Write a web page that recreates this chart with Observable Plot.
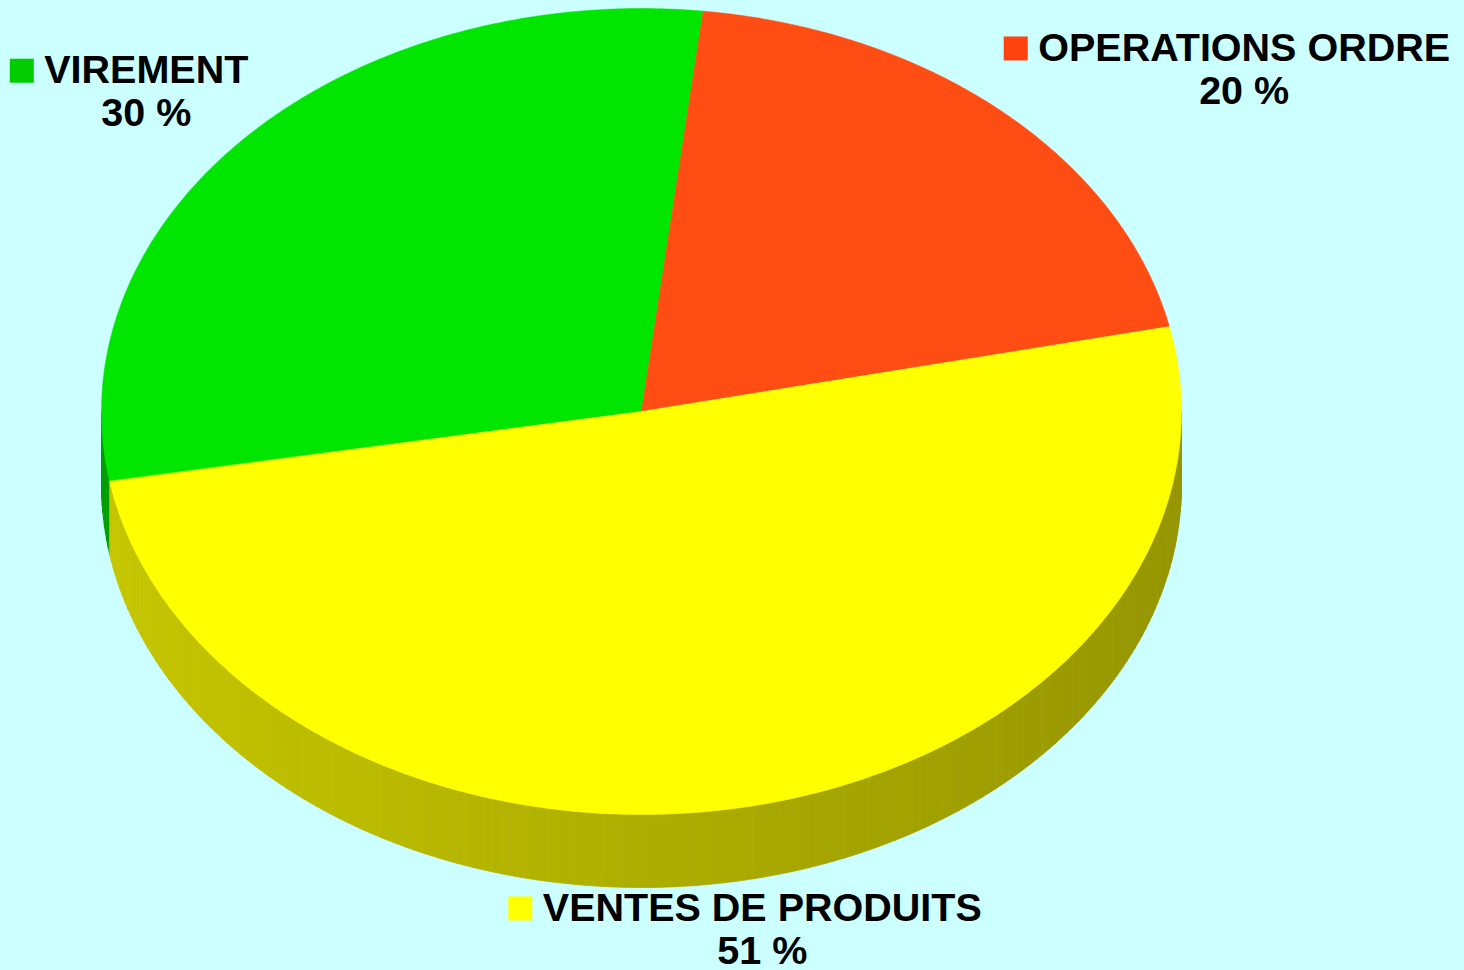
<!DOCTYPE html>
<html><head><meta charset="utf-8">
<script src="https://cdn.jsdelivr.net/npm/d3@7"></script>
<script src="https://cdn.jsdelivr.net/npm/@observablehq/plot@0.6"></script>
<style>html,body{margin:0;padding:0;background:#ccffff;overflow:hidden;}</style>
</head><body><div id="chart"></div>
<script>
// ---- data ----
const categories = ["VIREMENT", "OPERATIONS ORDRE", "VENTES DE PRODUITS"];
const values = [29.6, 19.8, 50.6];
const percentLabels = values.map(v => Math.round(v) + " %");
// ---- styles ----
const legendColors = ["#00cc00", "#ff420e", "#ffff00"];
const topColors = ["#00e600", "#ff4d14", "#ffff00"];

// ---- layout ----
const W = 1464, H = 970;
const CX = 641, CY = 411, RX = 540, RY = 403, DEPTH = 73, START = -100;
const FONT = 39.5, LINE_H = 43, SQ = 24, GAP = 10;
const rad = d => d * Math.PI / 180;
const pt = t => [CX + RX * Math.sin(rad(t)), CY - RY * Math.cos(rad(t))];

const total = d3.sum(values);
let acc = START;
const slices = values.map((v, i) => {
  const a0 = acc, a1 = acc + v / total * 360;
  acc = a1;
  return {i, a0, a1, mid: (a0 + a1) / 2};
});

// top faces
const topData = [];
for (const s of slices) {
  topData.push({x: CX, y: CY, id: "t" + s.i, color: topColors[s.i]});
  const n = Math.ceil((s.a1 - s.a0) * 2);
  for (let k = 0; k <= n; k++) {
    const [x, y] = pt(s.a0 + (s.a1 - s.a0) * k / n);
    topData.push({x, y, id: "t" + s.i, color: topColors[s.i]});
  }
}

// side (visible front half: 90..270 deg)
const shade = (hex, x) => {
  const f = 0.776 - 0.19 * (x - (CX - RX)) / (2 * RX);
  const c = d3.rgb(hex);
  return d3.rgb(c.r * f, c.g * f, c.b * f).formatHex();
};
const sideData = [];
let sid = 0;
for (const s of slices) {
  for (const off of [-360, 0, 360]) {
    const lo = Math.max(s.a0, 90 + off), hi = Math.min(s.a1, 270 + off);
    if (hi <= lo) continue;
    const n = Math.max(1, Math.ceil(hi - lo));
    for (let k = 0; k < n; k++) {
      const t0 = lo + (hi - lo) * k / n, t1 = lo + (hi - lo) * (k + 1) / n;
      const p0 = pt(t0), p1 = pt(t1);
      const color = shade(legendColors[s.i], (p0[0] + p1[0]) / 2);
      const id = "s" + (sid++);
      sideData.push({x: p0[0], y: p0[1], id, color});
      sideData.push({x: p1[0], y: p1[1], id, color});
      sideData.push({x: p1[0], y: p1[1] + DEPTH, id, color});
      sideData.push({x: p0[0], y: p0[1] + DEPTH, id, color});
    }
  }
}

// labels
const ctx = document.createElement("canvas").getContext("2d");
ctx.font = `bold ${FONT}px 'Liberation Sans'`;
const squares = [], texts = [];
for (const s of slices) {
  const [px, py] = pt(s.mid);
  const sn = Math.sin(rad(s.mid)), cs = Math.cos(rad(s.mid));
  const w1 = Math.max(ctx.measureText(categories[s.i]).width, ctx.measureText(percentLabels[s.i]).width);
  const boxW = SQ + GAP + w1;
  const left = sn > 0.3 ? px : sn < -0.3 ? px - boxW : px - boxW / 2;
  const top = cs > 0 ? py - 2 * LINE_H : py + DEPTH + 7;
  const b1 = top + 34, b2 = b1 + LINE_H;
  squares.push({x1: left, x2: left + SQ, y1: b1 - SQ, y2: b1, color: legendColors[s.i]});
  const tx = left + SQ + GAP + w1 / 2;
  texts.push({x: tx, y: b1 - 0.71 * FONT, text: categories[s.i]});
  texts.push({x: tx, y: b2 - 0.71 * FONT, text: percentLabels[s.i]});
}

const chart = Plot.plot({
  width: W, height: H,
  marginTop: 0, marginRight: 0, marginBottom: 0, marginLeft: 0,
  x: {domain: [0, W], range: [0, W], axis: null},
  y: {domain: [0, H], range: [0, H], axis: null},
  style: {background: "#ccffff", overflow: "visible"},
  marks: [
    Plot.line(sideData, {x: "x", y: "y", z: "id", fill: "color", stroke: "color", strokeWidth: 0.8, curve: "linear-closed"}),
    Plot.line(topData, {x: "x", y: "y", z: "id", fill: "color", stroke: "color", strokeWidth: 0.5, curve: "linear-closed"}),
    Plot.rect(squares, {x1: "x1", x2: "x2", y1: "y1", y2: "y2", fill: "color"}),
    Plot.text(texts, {x: "x", y: "y", text: "text", textAnchor: "middle", lineAnchor: "top",
      fontSize: FONT, fontWeight: "bold", fontFamily: "'Liberation Sans', Arial, sans-serif", fill: "black"})
  ]
});
document.getElementById("chart").appendChild(chart);
</script>
</body></html>
